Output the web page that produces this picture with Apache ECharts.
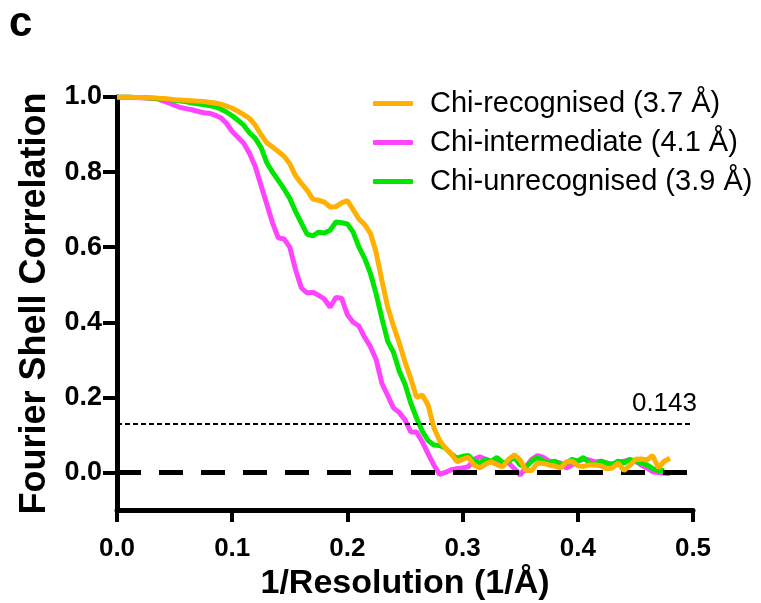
<!DOCTYPE html>
<html><head><meta charset="utf-8">
<script src="https://cdn.jsdelivr.net/npm/echarts@6/dist/echarts.min.js"></script>
<style>html,body{margin:0;padding:0;background:#fff}#c{width:761px;height:603px}</style>
</head><body><div id="c"></div>
<script>
const xs = [0.000,0.005,0.010,0.015,0.020,0.025,0.030,0.035,0.040,0.045,0.050,0.055,0.060,0.065,0.070,0.075,0.080,0.085,0.090,0.095,
0.100,0.105,0.110,0.115,0.120,0.125,0.130,0.135,0.140,0.145,0.150,0.155,0.160,0.165,0.170,0.175,0.180,0.185,0.190,0.195,
0.200,0.205,0.210,0.215,0.220,0.225,0.230,0.235,0.240,0.245,0.250,0.255,0.260,0.265,0.270,0.275,0.280,0.285,0.290,0.295,
0.300,0.305,0.310,0.315,0.320,0.325,0.330,0.335,0.340,0.345,0.350,0.355,0.360,0.365,0.370,0.375,0.380,0.385,0.390,0.395,
0.400,0.405,0.410,0.415,0.420,0.425,0.430,0.435,0.440,0.445,0.450,0.455,0.460,0.465,0.470,0.475,0.480];

const recognised = [1.000,1.000,1.000,0.999,0.999,0.998,0.998,0.997,0.996,0.995,0.993,0.992,0.991,0.990,0.989,0.988,0.986,0.984,0.981,0.976,
0.970,0.962,0.953,0.943,0.925,0.900,0.878,0.867,0.855,0.842,0.822,0.790,0.770,0.752,0.728,0.725,0.720,0.707,0.708,0.718,
0.724,0.700,0.675,0.660,0.637,0.585,0.510,0.440,0.390,0.345,0.295,0.250,0.200,0.206,0.180,0.120,0.085,0.065,0.050,0.029,
0.035,0.040,0.020,0.012,0.022,0.029,0.020,0.015,0.035,0.047,0.033,0.005,0.005,0.025,0.024,0.020,0.017,0.012,0.028,0.030,
0.018,0.016,0.020,0.020,0.018,0.010,0.012,0.025,0.005,0.018,0.035,0.036,0.033,0.045,0.012,0.030,0.038];

const intermediate = [1.000,1.000,1.000,0.999,0.998,0.997,0.996,0.995,0.990,0.984,0.978,0.972,0.969,0.966,0.962,0.958,0.957,0.952,0.945,0.930,
0.908,0.893,0.877,0.850,0.815,0.765,0.715,0.665,0.625,0.622,0.600,0.540,0.492,0.478,0.480,0.472,0.462,0.440,0.466,0.464,
0.420,0.400,0.390,0.360,0.335,0.300,0.237,0.205,0.172,0.160,0.140,0.108,0.108,0.082,0.050,0.020,-0.005,0.000,0.007,0.010,
0.012,0.015,0.035,0.042,0.035,0.028,0.030,0.025,0.025,0.010,-0.007,0.015,0.035,0.045,0.040,0.030,0.028,0.025,0.012,0.020,
0.030,0.035,0.033,0.028,0.030,0.025,0.022,0.028,0.030,0.033,0.030,0.020,0.012,0.002,0.000,-0.002,-0.003];

const unrecognised = [1.000,1.000,1.000,0.999,0.999,0.998,0.997,0.996,0.995,0.993,0.991,0.989,0.987,0.984,0.982,0.980,0.977,0.974,0.968,0.960,
0.950,0.938,0.925,0.905,0.890,0.866,0.825,0.800,0.778,0.755,0.730,0.695,0.665,0.635,0.630,0.640,0.638,0.645,0.667,0.665,
0.662,0.640,0.600,0.570,0.530,0.475,0.410,0.350,0.320,0.270,0.235,0.185,0.145,0.110,0.085,0.073,0.072,0.065,0.050,0.038,
0.043,0.045,0.030,0.025,0.035,0.030,0.040,0.025,0.030,0.040,0.020,0.015,0.030,0.040,0.030,0.025,0.030,0.020,0.025,0.035,
0.030,0.040,0.025,0.020,0.030,0.025,0.020,0.030,0.025,0.035,0.030,0.025,0.020,0.010,0.005,0.005];

const seriesNames = ['Chi-recognised (3.7 Å)','Chi-intermediate (4.1 Å)','Chi-unrecognised (3.9 Å)'];
const yTicks = [0.0,0.2,0.4,0.6,0.8,1.0];
const thresholdValue = 0.127;
const thresholdLabel = '0.143';

const pair = arr => arr.map((v,i)=>[xs[i], v]);
const chart = echarts.init(document.getElementById('c'), null, {renderer:'canvas'});
const F = 'Liberation Sans, Arial, Helvetica, sans-serif';
chart.setOption({
  animation:false,
  backgroundColor:'#fff',
  graphic:[{type:'text', left:9, top:3, style:{text:'c', font:'bold 42px '+F, fill:'#000'}}],
  grid:{left:117, right:68, top:97, bottom:93, containLabel:false, outerBoundsMode:'none'},
  legend:{
    data:seriesNames, orient:'vertical', left:368, top:84, itemGap:10,
    itemWidth:40, itemHeight:5, icon:'roundRect',
    textStyle:{fontFamily:F, fontSize:29, color:'#000', padding:[0,0,0,12]}
  },
  xAxis:{type:'value', min:0, max:0.5, interval:0.1,
    name:'1/Resolution (1/Å)', nameLocation:'middle', nameGap:56,
    nameTextStyle:{fontFamily:F, fontWeight:'bold', fontSize:34, color:'#000'},
    axisLine:{show:true, onZero:false, lineStyle:{color:'#000', width:5}},
    axisTick:{show:true, length:12, lineStyle:{color:'#000', width:4}},
    axisLabel:{margin:26, fontFamily:F, fontWeight:'bold', fontSize:26, color:'#000', formatter:v=>v.toFixed(1)},
    splitLine:{show:false}},
  yAxis:{type:'value', min:-0.1, max:1.0,
    name:'Fourier Shell Correlation', nameLocation:'middle', nameGap:60, nameRotate:90,
    nameTextStyle:{fontFamily:F, fontWeight:'bold', fontSize:36, color:'#000'},
    axisLine:{show:true, lineStyle:{color:'#000', width:5}},
    axisTick:{show:true, length:14, customValues:yTicks, lineStyle:{color:'#000', width:4}},
    axisLabel:{margin:15, customValues:yTicks, fontFamily:F, fontWeight:'bold', fontSize:27, color:'#000', formatter:v=>v.toFixed(1)},
    splitLine:{show:false}},
  series:[
    {name:seriesNames[1], type:'line', data:pair(intermediate), showSymbol:false, color:'#FF44FF', lineStyle:{width:5, color:'#FF44FF'}, z:3,
      markLine:{silent:true, symbol:'none', data:[
        {yAxis:0, lineStyle:{type:[24,18], color:'#000', width:5}, label:{show:false}},
        {yAxis:thresholdValue, lineStyle:{type:[5,3], color:'#000', width:2},
          label:{show:true, position:'insideEndTop', formatter:thresholdLabel, fontFamily:F, fontSize:26, color:'#000', distance:[-4,7]}}
      ]}},
    {name:seriesNames[2], type:'line', data:pair(unrecognised), showSymbol:false, color:'#00E600', lineStyle:{width:5, color:'#00E600'}, z:4},
    {name:seriesNames[0], type:'line', data:pair(recognised), showSymbol:false, color:'#FFB000', lineStyle:{width:5, color:'#FFB000'}, z:5}
  ]
});
</script></body></html>
